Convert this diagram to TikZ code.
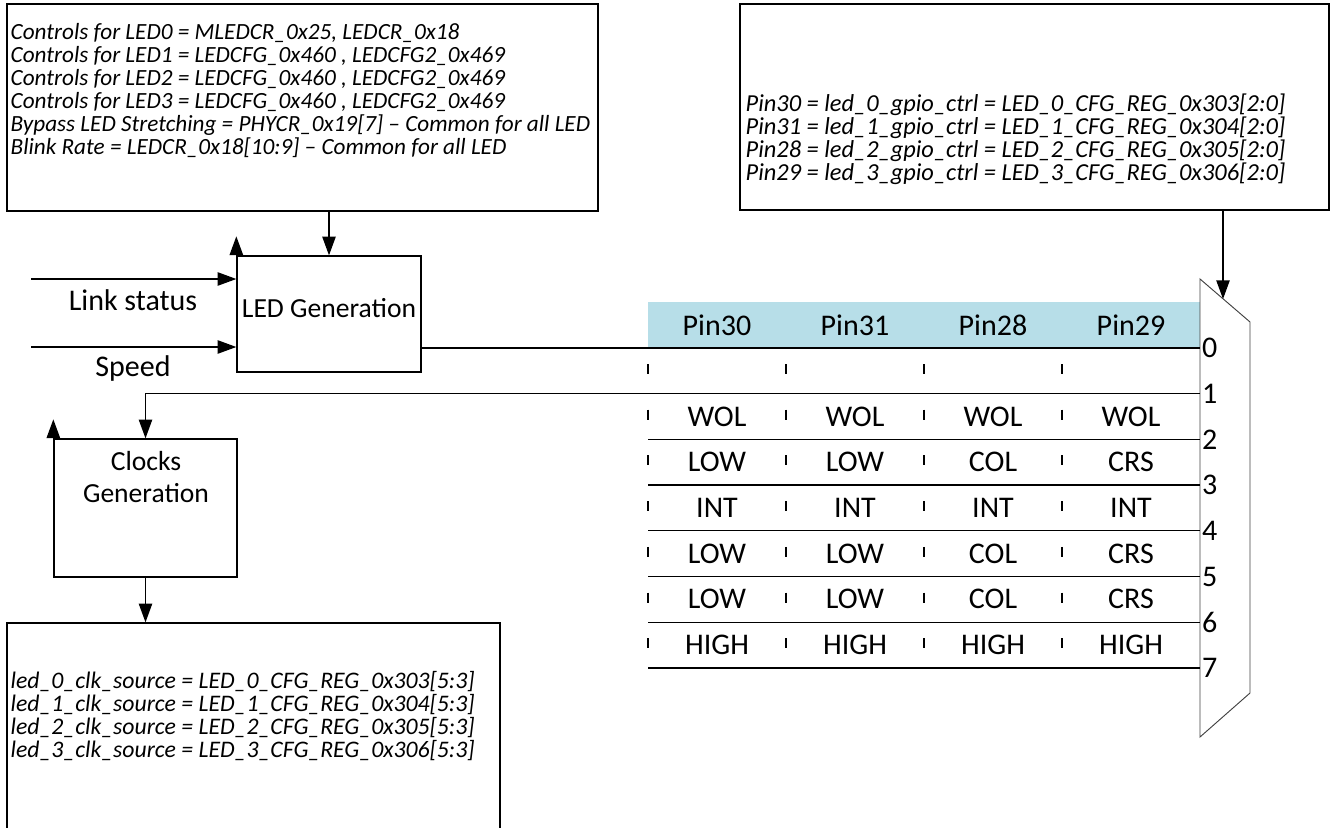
\documentclass[tikz,border=0pt]{standalone}
\usepackage{fontspec}
\setmainfont{Carlito}
\usetikzlibrary{arrows.meta,fit}
\definecolor{hdrblue}{RGB}{183,222,232}

\begin{document}
\begin{tikzpicture}[x=0.75pt, y=-0.75pt, line width=1pt,
	box/.style={draw, inner sep=0pt},
	big/.style={font=\fontsize{22.5}{26}\selectfont},
	blk/.style={font=\fontsize{20.7}{24.5}\selectfont},
	reg/.style={font=\fontsize{18}{17.25}\selectfont\itshape, align=left, anchor=north west, inner sep=0pt},
	arr/.style={-{Triangle[length=14pt, width=10pt]}}]
	\useasboundingbox (0,0) rectangle (1333,827);
	\clip (0,0) rectangle (1333,827);
	%register boxes
	\node[box, fit={(7,4) (598,211)}] (ctrl) {};
	\node[reg, font=\fontsize{17.4}{17.25}\selectfont\itshape] (ctrltxt) at (10,23) {Controls for LED0 = MLEDCR\_0x25, LEDCR\_0x18\\
		Controls for LED1 = LEDCFG\_0x460 , LEDCFG2\_0x469\\
		Controls for LED2 = LEDCFG\_0x460 , LEDCFG2\_0x469\\
		Controls for LED3 = LEDCFG\_0x460 , LEDCFG2\_0x469\\
		Bypass LED Stretching = PHYCR\_0x19[7] – Common for all LED\\
		Blink Rate = LEDCR\_0x18[10:9] – Common for all LED};
	\node[box, fit={(740,4) (1329,210)}] (gpio) {};
	\node[reg, font=\fontsize{18.3}{17.25}\selectfont\itshape] (gpiotxt) at (745,93) {Pin30 = led\_0\_gpio\_ctrl = LED\_0\_CFG\_REG\_0x303[2:0]\\
		Pin31 = led\_1\_gpio\_ctrl = LED\_1\_CFG\_REG\_0x304[2:0]\\
		Pin28 = led\_2\_gpio\_ctrl = LED\_2\_CFG\_REG\_0x305[2:0]\\
		Pin29 = led\_3\_gpio\_ctrl = LED\_3\_CFG\_REG\_0x306[2:0]};
	\node[box, fit={(7,623) (500,900)}] (clksrc) {};
	\node[reg, font=\fontsize{17.8}{17.25}\selectfont\itshape] (clksrctxt) at (10,671) {led\_0\_clk\_source = LED\_0\_CFG\_REG\_0x303[5:3]\\
		led\_1\_clk\_source = LED\_1\_CFG\_REG\_0x304[5:3]\\
		led\_2\_clk\_source = LED\_2\_CFG\_REG\_0x305[5:3]\\
		led\_3\_clk\_source = LED\_3\_CFG\_REG\_0x306[5:3]};
	%blocks
	\node[box, fit={(237,256) (421,372)}] (ledgen) {};
	\node[blk] (ledgentxt) at (329,308) {LED Generation};
	\node[box, fit={(54,439) (237,577)}] (clkgen) {};
	\node[blk, align=center] (clkgentxt) at (146,477) {Clocks\\Generation};
	%inputs
	\coordinate (link) at (31,279);
	\coordinate (speed) at (31,347);
	\draw[arr] (link) -- (link -| ledgen.west);
	\draw[arr] (speed) -- (speed -| ledgen.west);
	\node[big] (linklbl) at (133,300) {Link status};
	\node[big] (speedlbl) at (133,368) {Speed};
	\draw[arr] (ledgen.north west) -- ++(0,-19);
	\draw[arr] (clkgen.north west) -- ++(0,-19);
	\draw[arr] (ctrl.south -| ledgen.north) -- (ledgen.north);
	%table
	\node[fill=hdrblue, inner sep=0pt, fit={(648,302) (1200,348)}] (hdr) {};
	\coordinate (tleft) at (648,302);
	\foreach \p [count=\c] in {Pin30,Pin31,Pin28,Pin29}
	\node[big] (hdr\c) at ({648+138*(\c-0.5)},325) {\p};
	\foreach \r/\vals in {1/{WOL,WOL,WOL,WOL}, 2/{LOW,LOW,COL,CRS}, 3/{INT,INT,INT,INT},
		4/{LOW,LOW,COL,CRS}, 5/{LOW,LOW,COL,CRS}, 6/{HIGH,HIGH,HIGH,HIGH}}
	\foreach \v [count=\c] in \vals
	\node[big] (cell\r\c) at ({648+138*(\c-0.5)},{348+45.7*(\r+0.5)}) {\v};
	\foreach \x in {648,786,924,1062}
	\draw[dash pattern=on 7.5pt off 26.8pt, dash phase=-12pt] (\x,348) -- (\x,668);
	%mux
	\draw[line width=0.7pt, black!75] (1200,279) -- (1250,322) -- (1250,693) -- (1200,737) -- cycle;
	\coordinate (muxsel) at (1223,299);
	\draw[arr] (gpio.south -| muxsel) -- (muxsel);
	\foreach \k in {0,...,7}{
		\coordinate (in\k) at (1200,{348+45.7*\k});
		\node[big, anchor=west, inner sep=1pt] (num\k) at (in\k) {\k};
	}
	\foreach \k in {2,...,7}
	\draw (in\k -| tleft) -- (in\k);
	%connections
	\draw (ledgen.east |- in0) -- (in0);
	\draw[arr] (in1) -| (clkgen.north);
	\draw[arr] (clkgen.south) -- (clkgen.south |- clksrc.north);
\end{tikzpicture}
\end{document}
